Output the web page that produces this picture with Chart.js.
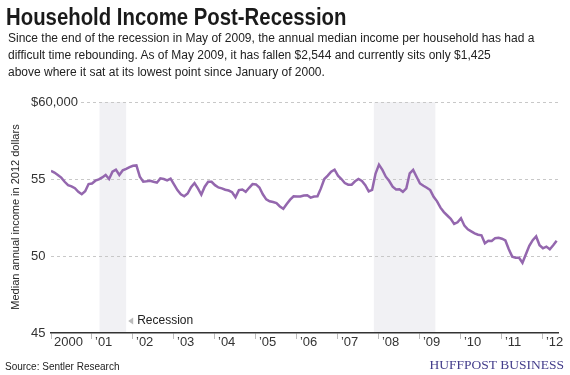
<!DOCTYPE html>
<html>
<head>
<meta charset="utf-8">
<script src="https://cdn.jsdelivr.net/npm/chart.js@4"></script>
<style>
  body { margin: 0; width: 570px; height: 375px; background: #fff; position: relative; overflow: hidden; font-family: Arial, "Liberation Sans", sans-serif; color: #222; }
  #wrap { position: absolute; left: 0; top: 0; width: 570px; height: 375px; }
  #title { position: absolute; left: 6px; top: 4px; font-weight: bold; font-size: 23px; transform: scaleX(0.885); transform-origin: left top; white-space: nowrap; color: #1a1a1a; }
  #sub { position: absolute; left: 8px; top: 30px; font-size: 12px; line-height: 17px; white-space: nowrap; }
  #ytitle { position: absolute; left: -95px; top: 210px; width: 220px; line-height: 14px; font-size: 11px; text-align: center; transform: rotate(-90deg); white-space: nowrap; }
  #source { position: absolute; left: 5px; top: 361px; font-size: 10px; }
  #brand { position: absolute; right: 6px; top: 357px; font-family: "Liberation Serif", "Times New Roman", serif; font-size: 13.5px; color: #433d8b; }
</style>
</head>
<body>
<div id="wrap"><canvas id="chart"></canvas></div>
<div id="title">Household Income Post-Recession</div>
<div id="sub">Since the end of the recession in May of 2009, the annual median income per household has had a<br>difficult time rebounding. As of May 2009, it has fallen $2,544 and currently sits only $1,425<br>above where it sat at its lowest point since January of 2000.</div>
<div id="ytitle">Median annual income in 2012 dollars</div>
<div id="source">Source: Sentler Research</div>
<div id="brand">HUFFPOST BUSINESS</div>
<script>
// mois depuis janvier 2000 pour chaque étiquette d'année
const yearTicks = [0, 12, 24, 36, 48, 60, 72, 84, 96, 108, 120, 132, 144]
const yearLabels = ['2000', '\u201901', '\u201902', '\u201903', '\u201904', '\u201905', '\u201906', '\u201907', '\u201908', '\u201909', '\u201910', '\u201911', '\u201912']
const yTicks = [45000, 50000, 55000, 60000]

// revenu médian mensuel, janv. 2000 -> mai 2012 (dollars 2012)
const incomeValues = [
  55530, 55420, 55260, 55090, 54820, 54600, 54520, 54400, 54170, 54010, 54200, 54670,
  54710, 54890, 54980, 55100, 55260, 55000, 55480, 55610, 55260, 55570, 55660, 55770,
  55860, 55880, 55150, 54820, 54850, 54890, 54820, 54760, 55040, 55000, 54910, 55020,
  54650, 54280, 54010, 53880, 54060, 54470, 54740, 54390, 53990, 54500, 54820, 54820,
  54600, 54450, 54390, 54300, 54250, 54140, 53820, 54280, 54320, 54170, 54430, 54670,
  54650, 54450, 54010, 53680, 53550, 53510, 53440, 53220, 53070, 53380, 53660, 53880,
  53860, 53860, 53930, 53950, 53790, 53860, 53880, 54390, 55000, 55220, 55480, 55610,
  55220, 55000, 54740, 54630, 54630, 54850, 55000, 54870, 54600, 54200, 54300, 55350,
  55930, 55590, 55150, 54870, 54500, 54320, 54340, 54170, 54390, 55370, 55590, 55150,
  54710, 54560, 54430, 54280, 53840, 53550, 53140, 52850, 52630, 52410, 52080, 52190,
  52450, 51970, 51730, 51600, 51470, 51380, 51340, 50830, 50990, 50970, 51160, 51180,
  51120, 51010, 50440, 49960, 49890, 49890, 49560, 50110, 50660, 51030, 51270, 50700,
  50500, 50610, 50440, 50700, 50990
]

// récessions (en mois depuis janvier 2000)
const recessionStart = [14.2, 94.5]
const recessionEnd = [22, 112.5]

const recessionBands = {
  id: 'recessionBands',
  beforeDraw(chart) {
    const { ctx, chartArea, scales: { x } } = chart
    ctx.save()
    ctx.fillStyle = '#f1f1f4'
    for (let i = 0; i < recessionStart.length; i++) {
      const x0 = x.getPixelForValue(recessionStart[i])
      const x1 = x.getPixelForValue(recessionEnd[i])
      ctx.fillRect(x0, chartArea.top, x1 - x0, chartArea.bottom - chartArea.top)
    }
    // petite étiquette "Recession" à droite de la première bande
    const lx = x.getPixelForValue(recessionEnd[0]) + 2
    const ly = chartArea.bottom - 12
    ctx.fillStyle = '#bbbbbb'
    ctx.beginPath()
    ctx.moveTo(lx, ly)
    ctx.lineTo(lx + 5, ly - 3.5)
    ctx.lineTo(lx + 5, ly + 3.5)
    ctx.fill()
    ctx.fillStyle = '#222'
    ctx.font = '12px Arial, "Liberation Sans", sans-serif'
    ctx.textBaseline = 'middle'
    ctx.fillText('Recession', lx + 9, ly)
    ctx.restore()
  }
}

const config = {
  type: 'line',
  data: {
    datasets: [{
      data: incomeValues.map((v, i) => ({ x: i, y: v })),
      borderColor: '#9467ae',
      borderWidth: 2.5,
      pointRadius: 0,
      tension: 0,
      fill: false
    }]
  },
  options: {
    responsive: true,
    maintainAspectRatio: false,
    animation: false,
    layout: { padding: { left: 31, right: 12, top: 102, bottom: 22 } },
    plugins: { legend: { display: false }, tooltip: { enabled: false } },
    scales: {
      x: {
        type: 'linear',
        min: 0,
        max: 148.4,
        afterBuildTicks: s => { s.ticks = yearTicks.map(v => ({ value: v })) },
        afterFit: s => { s.height = 20 },
        grid: { drawOnChartArea: false, drawTicks: true, tickLength: 6, color: '#bbbbbb' },
        border: { color: '#333', width: 1.5 },
        ticks: {
          align: 'start',
          labelOffset: 3,
          padding: -4,
          maxRotation: 0,
          autoSkip: false,
          color: '#333',
          font: { family: 'Arial, "Liberation Sans", sans-serif', size: 13 },
          callback: v => yearLabels[yearTicks.indexOf(v)]
        }
      },
      y: {
        min: 45000,
        max: 60000,
        afterBuildTicks: s => { s.ticks = yTicks.map(v => ({ value: v })) },
        afterFit: s => { s.width = 20 },
        grid: {
          drawTicks: false,
          color: c => (c.tick && (c.tick.value === 50000 || c.tick.value === 55000 || c.tick.value === 60000)) ? '#c8c8c8' : 'rgba(0,0,0,0)'
        },
        border: { display: false, dash: [3, 3] },
        ticks: {
          mirror: true,
          padding: -20,
          color: '#333',
          font: { family: 'Arial, "Liberation Sans", sans-serif', size: 13 },
          showLabelBackdrop: true,
          backdropColor: c => c.tick.value === 60000 ? '#fff' : 'rgba(0,0,0,0)',
          backdropPadding: { left: 2, right: 3, top: 2, bottom: 2 },
          callback: v => v === 60000 ? '$60,000' : String(v / 1000)
        }
      }
    }
  },
  plugins: [recessionBands]
}

new Chart(document.getElementById('chart'), config)
</script>
</body>
</html>
